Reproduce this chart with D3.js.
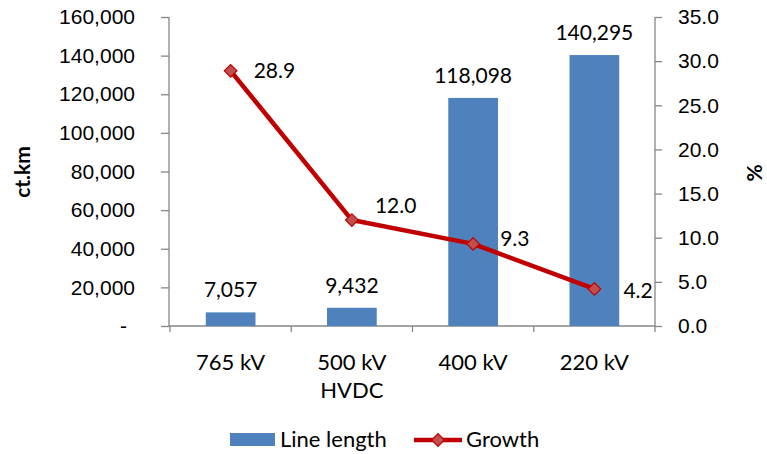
<!DOCTYPE html>
<html>
<head>
<meta charset="utf-8">
<script src="https://cdn.jsdelivr.net/npm/d3@7"></script>
<style>
  html, body { margin: 0; padding: 0; background: #fff; }
  svg { display: block; font-family: Lato, "Open Sans", sans-serif; }
  .axis path, .axis line { stroke: #868686; stroke-width: 1.3; }
  .axis text { fill: #000; font-size: 21px; }
  .axis text.cat { font-size: 22px; }
</style>
</head>
<body>
<svg id="chart" width="767" height="454"></svg>
<script>
// Transmission line length by voltage class, with growth rate
const categories = ["765 kV", "500 kV\nHVDC", "400 kV", "220 kV"];
const lineLength = [7057, 9432, 118098, 140295];   // ct.km
const growth = [28.9, 12.0, 9.3, 4.2];               // %
const leftTicks = [0, 20000, 40000, 60000, 80000, 100000, 120000, 140000, 160000];
const rightTicks = [0, 5, 10, 15, 20, 25, 30, 35];

const svg = d3.select("#chart");
const plot = { left: 169, right: 655, top: 17, bottom: 326 };

const x = d3.scaleBand()
  .domain(categories)
  .range([plot.left + 1, plot.right])
  .paddingInner(0.59)
  .paddingOuter(0.295);

const yL = d3.scaleLinear().domain([0, 160000]).range([plot.bottom, plot.top]);
const yR = d3.scaleLinear().domain([0, 35]).range([plot.bottom, plot.top]);

const cx = d => x(d) + x.bandwidth() / 2;
const fmtInt = d3.format(",");

// Left axis
const gl = svg.append("g").attr("class", "axis")
  .attr("transform", `translate(${plot.left},0)`)
  .call(d3.axisLeft(yL).tickValues(leftTicks).tickSize(8).tickSizeOuter(0).tickPadding(26)
    .tickFormat(d => d === 0 ? "-" : fmtInt(d)));
gl.selectAll(".tick text").filter(d => d === 0).attr("dx", -8);
gl.select(".domain").attr("d", `M0,${plot.top}V${plot.bottom}`);

// Right axis
const gr = svg.append("g").attr("class", "axis")
  .attr("transform", `translate(${plot.right},0)`)
  .call(d3.axisRight(yR).tickValues(rightTicks).tickSize(7).tickSizeOuter(0).tickPadding(16)
    .tickFormat(d3.format(".1f")));
gr.select(".domain").attr("d", `M0,${plot.top}V${plot.bottom}`);

// Category axis with tick marks between groups
const step = x.step();
const xStart = x(categories[0]) - x.paddingOuter() * step;
const gb = svg.append("g").attr("class", "axis");
gb.append("line")
  .attr("x1", plot.left).attr("x2", plot.right)
  .attr("y1", plot.bottom).attr("y2", plot.bottom);
gb.selectAll("line.sep")
  .data(d3.range(categories.length + 1))
  .join("line")
  .attr("class", "sep")
  .attr("x1", i => xStart + i * step).attr("x2", i => xStart + i * step)
  .attr("y1", plot.bottom).attr("y2", plot.bottom + 6);
gb.selectAll("text.cat")
  .data(categories)
  .join("text")
  .attr("class", "cat")
  .attr("text-anchor", "middle")
  .attr("x", d => cx(d))
  .attr("y", 370)
  .each(function (d) {
    const t = d3.select(this);
    d.split("\n").forEach((line, i) => {
      t.append("tspan").attr("x", cx(d)).attr("dy", i === 0 ? 0 : 28).text(line);
    });
  });

// Axis titles
svg.append("text")
  .attr("transform", "translate(30,172) rotate(-90)")
  .attr("text-anchor", "middle")
  .attr("font-size", 21).attr("font-weight", "bold")
  .text("ct.km");
svg.append("text")
  .attr("transform", "translate(762,173) rotate(-90)")
  .attr("text-anchor", "middle")
  .attr("font-size", 21).attr("font-weight", "bold")
  .text("%");

// Bars
svg.append("g").selectAll("rect")
  .data(categories)
  .join("rect")
  .attr("x", d => x(d))
  .attr("width", x.bandwidth())
  .attr("y", (d, i) => yL(lineLength[i]))
  .attr("height", (d, i) => plot.bottom - yL(lineLength[i]))
  .attr("fill", "#4F81BD");

svg.append("g").selectAll("text")
  .data(categories)
  .join("text")
  .attr("text-anchor", "middle")
  .attr("x", d => cx(d))
  .attr("y", (d, i) => yL(lineLength[i]) - 15)
  .attr("font-size", 21)
  .text((d, i) => fmtInt(lineLength[i]));

// Growth line
const line = d3.line()
  .x((d, i) => cx(categories[i]))
  .y(d => yR(d));
svg.append("path")
  .datum(growth)
  .attr("d", line)
  .attr("fill", "none")
  .attr("stroke", "#C00000")
  .attr("stroke-width", 4.5)
  .attr("stroke-linejoin", "round");

const diamond = d3.symbol().type(d3.symbolSquare).size(80);
svg.append("g").selectAll("path")
  .data(growth)
  .join("path")
  .attr("d", diamond)
  .attr("transform", (d, i) => `translate(${cx(categories[i])},${yR(d)}) rotate(45)`)
  .attr("fill", "#C0504D")
  .attr("stroke", "#C00000")
  .attr("stroke-width", 1.2);

// Growth labels, placed to the right of each marker
const labelShift = [[23, 0], [23, -14], [27, -5], [29, 2]];
svg.append("g").selectAll("text")
  .data(growth)
  .join("text")
  .attr("x", (d, i) => cx(categories[i]) + labelShift[i][0])
  .attr("y", (d, i) => yR(d) + labelShift[i][1])
  .attr("dy", "0.35em")
  .attr("font-size", 21)
  .text(d => d3.format(".1f")(d));

// Legend
const lg = svg.append("g");
lg.append("rect").attr("x", 230).attr("y", 433).attr("width", 45).attr("height", 13).attr("fill", "#4F81BD");
lg.append("text").attr("x", 280).attr("y", 447).attr("font-size", 22).text("Line length");
lg.append("line").attr("x1", 414).attr("x2", 462).attr("y1", 440).attr("y2", 440)
  .attr("stroke", "#C00000").attr("stroke-width", 4.5);
lg.append("path").attr("d", diamond)
  .attr("transform", "translate(438,440) rotate(45)")
  .attr("fill", "#C0504D").attr("stroke", "#C00000").attr("stroke-width", 1.2);
lg.append("text").attr("x", 466).attr("y", 447).attr("font-size", 22).text("Growth");
</script>
</body>
</html>
